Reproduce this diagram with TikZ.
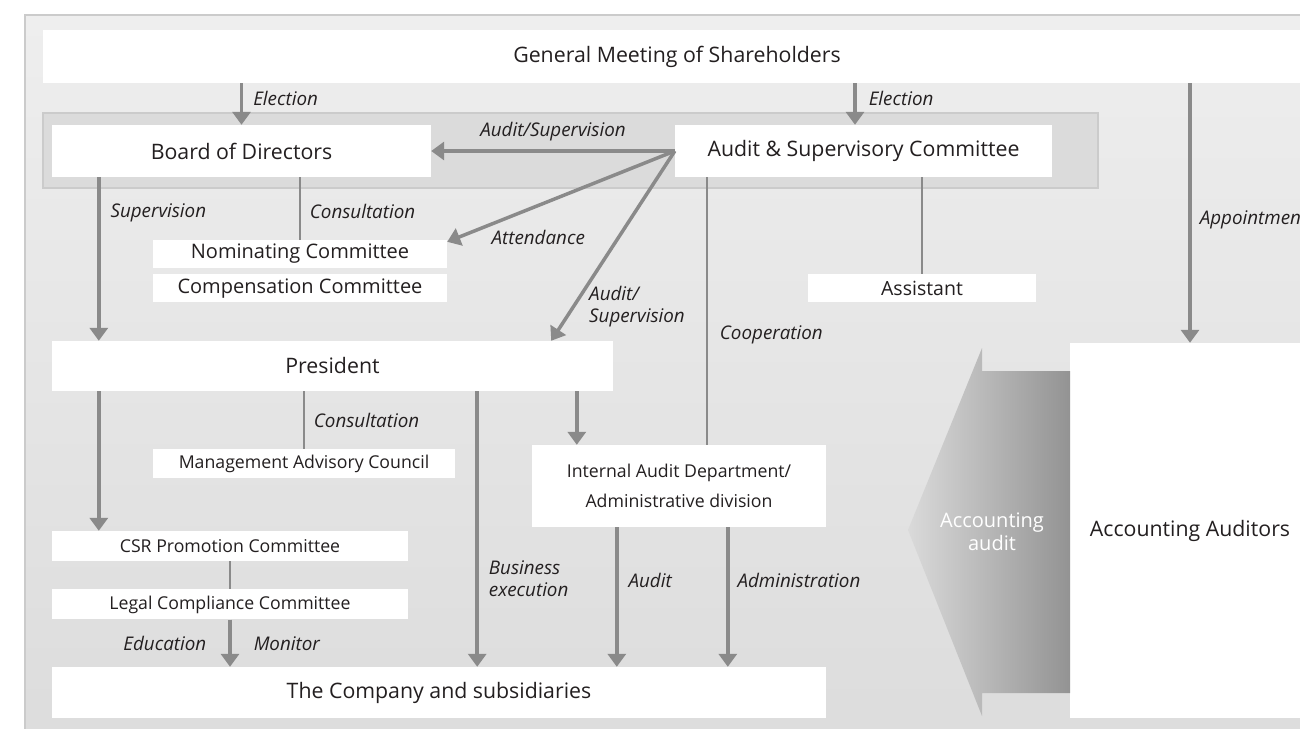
\documentclass[tikz,border=0pt]{standalone}
\usepackage{fontspec}
\setmainfont{Open Sans}
\usepackage{xcolor}
\definecolor{govbg}{HTML}{EEEEEE}
\definecolor{govbgdark}{HTML}{DCDCDC}
\definecolor{govband}{HTML}{DBDBDB}
\definecolor{govedge}{HTML}{CBCBCB}
\definecolor{govarrow}{HTML}{8A8A8A}
\definecolor{govtext}{HTML}{231F20}
\definecolor{govaudlight}{HTML}{DADADA}
\definecolor{govauddark}{HTML}{939393}
\usepackage{tikz}
\usetikzlibrary{arrows.meta,positioning,calc}
\tikzset{
  govbox/.style={fill=white,inner sep=0pt,align=center,text=govtext,font=\fontsize{21.3}{25}\selectfont},
  govsmall/.style={govbox,font=\fontsize{17.7}{30}\selectfont},
  govflow/.style={-{Triangle[width=18pt,length=13pt]},line width=3.5pt,draw=govarrow},
  govline/.style={line width=1.8pt,draw=govarrow},
  govlabel/.style={font=\fontsize{18.8}{22}\selectfont\itshape,text=govtext,inner sep=0pt,align=left},
}

\begin{document}
\begin{tikzpicture}[x=1pt,y=-1pt]
\useasboundingbox (0,0) rectangle (1300,728);
\clip (0,0) rectangle (1300,728);
\fill[white] (0,0) rectangle (1300,728);
\draw[govedge,line width=2pt,top color=govbg,bottom color=govbgdark] (25,15) rectangle (1340,750);
% governance band
\node[draw=govedge,line width=2pt,fill=govband,minimum width=1055pt,minimum height=75pt,inner sep=0pt](band) at (570.5,150.5){};
% boxes
\node[govbox,minimum width=1268pt,minimum height=53pt](gms) at (677,56.5){General Meeting of Shareholders};
\node[govbox,minimum width=379pt,minimum height=52pt](board) at (241.5,151){Board of Directors};
\node[govbox,minimum width=377pt,minimum height=52pt](asc) at (863.5,151){Audit \& Supervisory Committee};
\node[govsmall,font=\fontsize{20}{24}\selectfont,minimum width=294pt,minimum height=28pt](nom) at (300,254){Nominating Committee};
\node[govsmall,font=\fontsize{20}{24}\selectfont,minimum width=294pt,minimum height=28pt,below=6pt of nom](comp){Compensation Committee};
\node[govsmall,font=\fontsize{19.5}{24}\selectfont,minimum width=228pt,minimum height=28pt](assist) at (922,288){Assistant};
\node[govbox,minimum width=561pt,minimum height=50pt](pres) at (332.5,366){President};
\node[govsmall,minimum width=302pt,minimum height=29pt](mac) at (304,463.5){Management Advisory Council};
\node[govsmall,minimum width=294pt,minimum height=82pt](iad) at (679,486){Internal Audit Department/\\Administrative division};
\node[govsmall,minimum width=356pt,minimum height=30pt](csr) at (230,546){CSR Promotion Committee};
\node[govsmall,minimum width=356pt,minimum height=30pt,below=28pt of csr](lcc){Legal Compliance Committee};
\node[govbox,minimum width=774pt,minimum height=51pt](cos) at (439,692.5){The Company and subsidiaries};
\node[govbox,minimum width=240pt,minimum height=375pt](aud) at (1190,530.5){Accounting Auditors};
% accounting audit arrow
\shade[left color=govaudlight,right color=govauddark](908,530)--(982,348)--(982,371)--(1070,371)--(1070,693)--(982,693)--(982,716)--cycle;
\node[font=\fontsize{20}{23}\selectfont,text=white,align=center](acctext) at (992,532){Accounting\\audit};
% election and appointment
\draw[govflow](gms.south -| board.north)--node[govlabel,right=10pt,yshift=6pt]{Election}(board.north);
\coordinate(ascin) at ([xshift=-8.5pt]asc.north);
\draw[govflow](gms.south -| ascin)--node[govlabel,right=12pt,yshift=6pt]{Election}(ascin);
\draw[govflow](gms.south -| aud.north)--node[govlabel,right=8pt,yshift=-7pt]{Appointment}(aud.north);
% audit & supervisory committee
\draw[govflow](asc.west)--node[govlabel,above=8pt]{Audit/Supervision}(board.east);
\draw[govflow](asc.west)--node[govlabel,pos=0.6,below=23pt]{Attendance}([yshift=-2pt]nom.north east);
\draw[govflow](asc.west)--node[govlabel,pos=0.82,right=14pt]{Audit/\\Supervision}([xshift=-62pt]pres.north east);
\draw[govline](assist.north |- asc.south)--(assist.north);
\draw[govline]([xshift=28pt]iad.north |- asc.south)--node[govlabel,pos=0.59,right=12pt]{Cooperation}([xshift=28pt]iad.north);
% board of directors
\draw[govflow]([xshift=47pt]board.south west)--node[govlabel,pos=0.22,right=10pt]{Supervision}([xshift=47pt]board.south west |- pres.north);
\draw[govline](nom.north |- board.south)--node[govlabel,pos=0.55,right=9pt]{Consultation}(nom.north);
% president
\draw[govflow]([xshift=47pt]pres.south west)--([xshift=47pt]pres.south west |- csr.north);
\draw[govline](mac.north |- pres.south)--node[govlabel,midway,right=9pt]{Consultation}(mac.north);
\draw[govflow]([xshift=-136pt]pres.south east)--node[govlabel,pos=0.68,right=10pt]{Business\\execution}([xshift=-136pt]pres.south east |- cos.north);
\draw[govflow]([xshift=45pt]iad.north west |- pres.south)--([xshift=45pt]iad.north west);
% internal audit
\draw[govflow]([xshift=85pt]iad.south west)--node[govlabel,pos=0.38,right=10pt]{Audit}([xshift=85pt]iad.south west |- cos.north);
\draw[govflow]([xshift=196pt]iad.south west)--node[govlabel,pos=0.38,right=8pt]{Administration}([xshift=196pt]iad.south west |- cos.north);
% compliance
\draw[govline](csr.south -| lcc.north)--(lcc.north);
\draw[govflow](lcc.south)--node[govlabel,midway,left=22pt]{Education}node[govlabel,midway,right=22pt]{Monitor}(lcc.south |- cos.north);
\end{tikzpicture}
\end{document}
